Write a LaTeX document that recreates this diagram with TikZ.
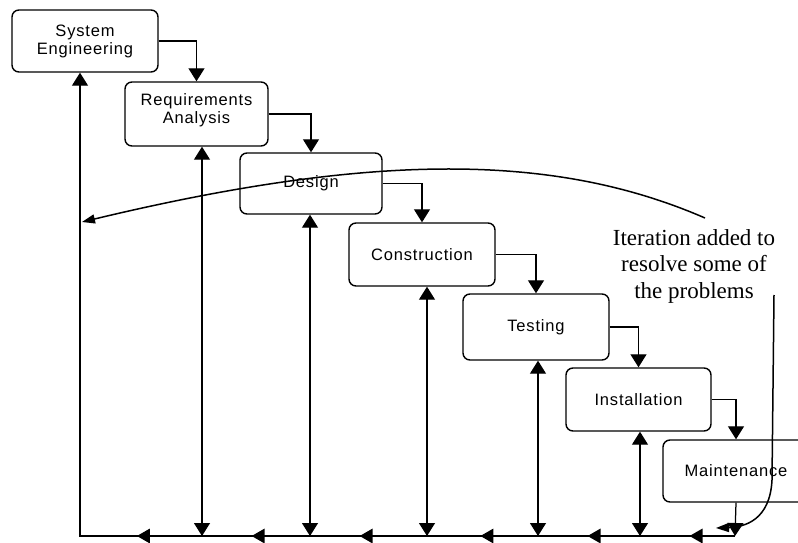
\documentclass[tikz,border=0pt]{standalone}
\usepackage{fontspec}
\setmainfont{Liberation Serif}
\newfontfamily\boxfont[LetterSpace=5]{Liberation Sans}
\usetikzlibrary{arrows.meta,decorations.markings}

\begin{document}
\begin{tikzpicture}[x=1pt,y=-1pt,
  stage/.style={draw, line width=1.4pt, rounded corners=7pt, align=center,
    inner sep=0pt, font=\boxfont\fontsize{16.5}{18}\selectfont},
  flow/.style={line width=1.25pt, -{Triangle[length=13pt,width=16pt]}},
  twoway/.style={line width=1.25pt,
    {Triangle[length=13pt,width=16pt]}-{Triangle[length=13pt,width=16pt]}},
  busline/.style={line width=1.25pt, line join=miter, -{Triangle[length=13pt,width=16pt]}},
  busmark/.style={postaction={decorate}, decoration={markings,
    mark=at position #1 with {\fill (6.5pt,0pt) -- (-6.5pt,7.5pt) -- (-6.5pt,-7.5pt) -- cycle;}}},
  iterline/.style={line width=1.5pt, -{Triangle[length=13pt,width=9pt]}},
  note/.style={align=center, inner sep=0pt, font=\fontsize{23}{26.5}\selectfont}]

\useasboundingbox (0,0) rectangle (798,543);
\clip (0,0) rectangle (798,543);

% process stages
\node[stage, minimum width=146pt, minimum height=62pt] (sys) at (85,41) {System\\Engineering};
\node[stage, minimum width=143pt, minimum height=64pt, text depth=11pt] (req) at (196.5,114) {Requirements\\Analysis};
\node[stage, minimum width=142pt, minimum height=61pt] (des) at (311,183.5) {Design};
\node[stage, minimum width=146pt, minimum height=63pt] (con) at (422,254.5) {Construction};
\node[stage, minimum width=146pt, minimum height=66pt] (tst) at (536,327) {Testing};
\node[stage, minimum width=145pt, minimum height=63pt] (ins) at (638.5,399.5) {Installation};
\node[stage, minimum width=146pt, minimum height=62pt] (mnt) at (736,471) {Maintenance};

% stage-to-stage steps
\draw[flow] (sys.east) -| (req.north);
\draw[flow] (req.east) -| (des.north);
\draw[flow] (des.east) -| (con.north);
\draw[flow] (con.east) -| (tst.north);
\draw[flow] (tst.east) -| (ins.north);
\draw[flow] (ins.east) -| (mnt.north);

% feedback bus along the bottom
\coordinate (b0) at (80,536);
\coordinate (b1) at (202,536);
\coordinate (b2) at (310,536);
\coordinate (b3) at (427,536);
\coordinate (b4) at (538,536);
\coordinate (b5) at (640,536);
\coordinate (b6) at (735,536);

\draw[busline] (b6) -- (b0) -- (b0 |- sys.south);
\path[busmark=0.41] (b6) -- (b5);
\path[busmark=0.45] (b5) -- (b4);
\path[busmark=0.46] (b4) -- (b3);
\path[busmark=0.52] (b3) -- (b2);
\path[busmark=0.48] (b2) -- (b1);
\path[busmark=0.48] (b1) -- (b0);

\draw[twoway] (b1 |- req.south) -- (b1);
\draw[twoway] (b2 |- des.south) -- (b2);
\draw[twoway] (b3 |- con.south) -- (b3);
\draw[twoway] (b4 |- tst.south) -- (b4);
\draw[twoway] (b5 |- ins.south) -- (b5);
\draw[flow] (mnt.south) -- (b6);

% annotation and iteration arrows
\node[note] (note) at (694,266) {Iteration added to\\resolve some of\\the problems};

\coordinate (loopS) at (705,218);
\coordinate (loopE) at (82,222);
\draw[iterline] (loopS) .. controls (560,155) and (382,150) .. (loopE);

\coordinate (dropS) at (774,295);
\coordinate (dropK) at (772,480);
\coordinate (dropE) at (716,528);
\draw[iterline] (dropS) -- (dropK) .. controls (770,520) and (745,527) .. (dropE);

\end{tikzpicture}
\end{document}
